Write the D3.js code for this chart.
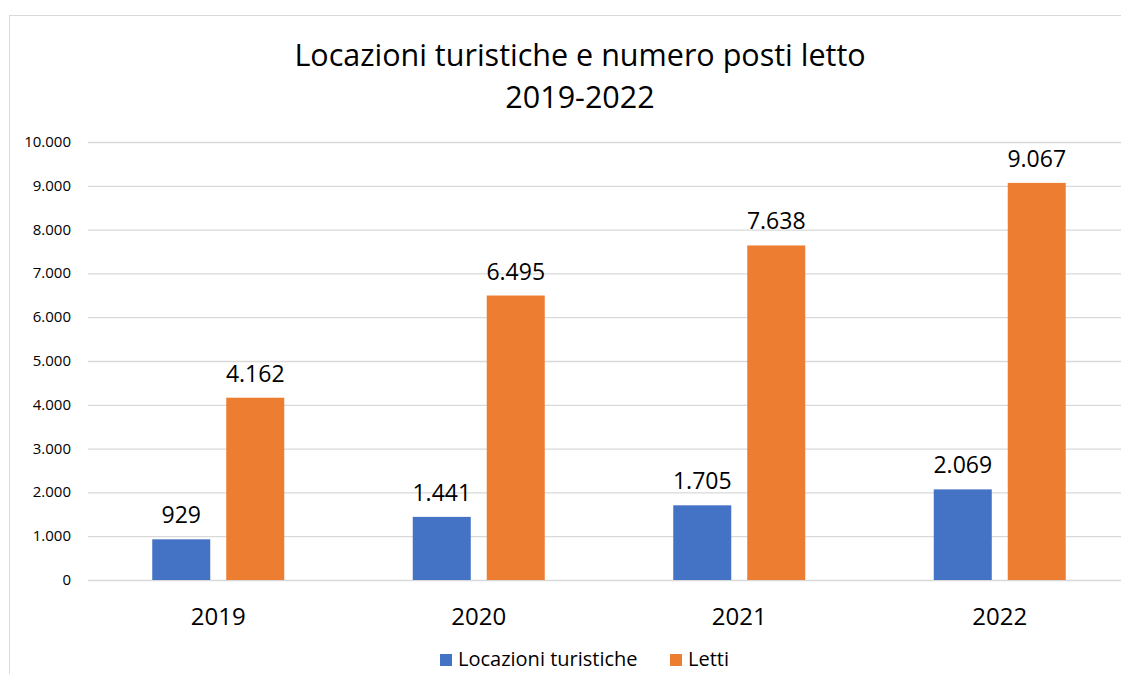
<!doctype html>
<html>
<head>
    <meta charset="utf-8" />
    <title>Locazioni turistiche</title>
    <style>
        body { margin: 0; background: #fff; }
        svg text { font-family: "Open Sans", "Noto Sans", sans-serif; fill: #000; }
        .grid line { stroke: #d9d9d9; stroke-width: 1.3; }
        .grid path { display: none; }
    </style>
</head>
<body>
    <div id="chart"></div>

    <script src="https://cdn.jsdelivr.net/npm/d3@7"></script>
    <script>
        var years = ["2019", "2020", "2021", "2022"];
        var locazioni = [929, 1441, 1705, 2069];
        var letti = [4162, 6495, 7638, 9067];
        var seriesNames = ["Locazioni turistiche", "Letti"];
        var seriesColors = ["#4472c4", "#ed7d31"];
        var yTicks = [0, 1000, 2000, 3000, 4000, 5000, 6000, 7000, 8000, 9000, 10000];

        var w = 1121, h = 674;
        var it = d3.formatLocale({ decimal: ",", thousands: ".", grouping: [3], currency: ["", "€"] });
        var fmt = it.format(",d");

        var svg = d3.select("#chart").append("svg").attr("width", w).attr("height", h);

        // chart area border
        svg.append("rect")
            .attr("x", 9.5).attr("y", 15.5)
            .attr("width", w + 20).attr("height", h + 20)
            .attr("fill", "none").attr("stroke", "#d9d9d9");

        var x0 = d3.scaleBand().domain(years).range([88, 1130]);
        var x1 = d3.scaleBand().domain(seriesNames).range([-66, 66]).paddingInner(0.216).paddingOuter(0);
        var y = d3.scaleLinear().domain([0, 10000]).range([580, 142]);

        // title
        var title = svg.append("text").attr("text-anchor", "middle").style("font-size", "30.5px");
        title.append("tspan").attr("x", 580).attr("y", 66).text("Locazioni turistiche e numero posti letto");
        title.append("tspan").attr("x", 580).attr("y", 108).text("2019-2022");

        // gridlines
        svg.append("g").attr("class", "grid")
            .attr("transform", "translate(88,0)")
            .call(d3.axisLeft(y).tickValues(yTicks).tickSize(-1040).tickFormat(""));

        // y tick labels
        svg.append("g").selectAll("text").data(yTicks).enter().append("text")
            .attr("x", 71).attr("y", function(d) { return y(d) + 5; })
            .attr("text-anchor", "end").style("font-size", "15px")
            .text(function(d) { return fmt(d); });

        var rows = years.map(function(yr, i) {
            return { year: yr, vals: [locazioni[i], letti[i]] };
        });

        var groups = svg.selectAll("g.year").data(rows).enter().append("g")
            .attr("class", "year")
            .attr("transform", function(d) { return "translate(" + (x0(d.year) + x0.bandwidth() / 2) + ",0)"; });

        groups.selectAll("rect").data(function(d) { return d.vals; }).enter().append("rect")
            .attr("x", function(d, i) { return x1(seriesNames[i]); })
            .attr("width", x1.bandwidth())
            .attr("y", function(d) { return y(d); })
            .attr("height", function(d) { return y(0) - y(d); })
            .attr("fill", function(d, i) { return seriesColors[i]; });

        groups.selectAll("text.lbl").data(function(d) { return d.vals; }).enter().append("text")
            .attr("class", "lbl")
            .attr("x", function(d, i) { return x1(seriesNames[i]) + x1.bandwidth() / 2; })
            .attr("y", function(d) { return y(d) - 16; })
            .attr("text-anchor", "middle").style("font-size", "23px")
            .text(function(d) { return fmt(d); });

        groups.append("text")
            .attr("y", 625).attr("text-anchor", "middle").style("font-size", "24px")
            .text(function(d) { return d.year; });

        // legend
        var legendX = [440, 670];
        var leg = svg.selectAll("g.leg").data(seriesNames).enter().append("g")
            .attr("class", "leg")
            .attr("transform", function(d, i) { return "translate(" + legendX[i] + ",654)"; });
        leg.append("rect").attr("width", 12).attr("height", 12)
            .attr("fill", function(d, i) { return seriesColors[i]; });
        leg.append("text").attr("x", 18).attr("y", 12).style("font-size", "20px")
            .text(function(d) { return d; });
    </script>
</body>
</html>
